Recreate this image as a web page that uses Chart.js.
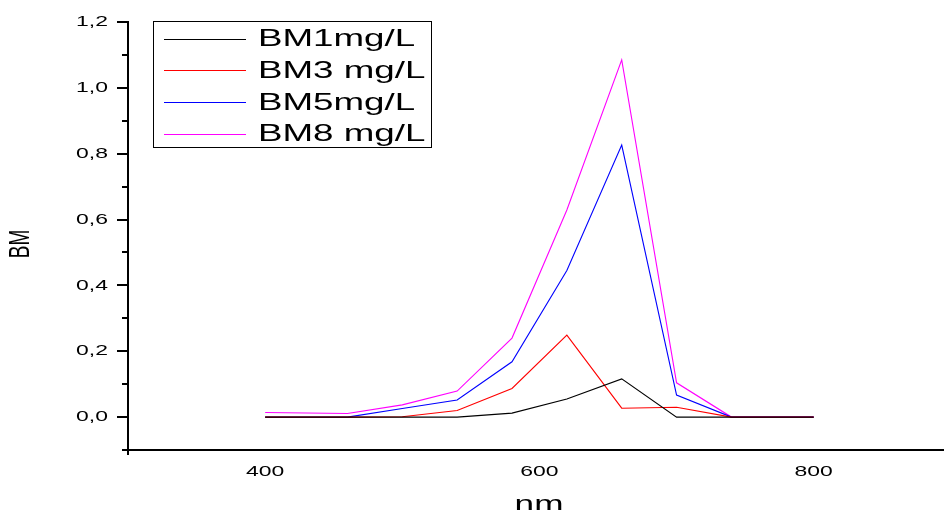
<!DOCTYPE html>
<html>
<head>
<meta charset="utf-8">
<script src="https://cdn.jsdelivr.net/npm/chart.js@4"></script>
<style>
  html, body { margin: 0; padding: 0; background: #fff; }
  #wrap { width: 944px; height: 510px; }
</style>
</head>
<body>
<div id="wrap"><canvas id="chart" width="944" height="510"></canvas></div>
<script>
// Wavelength (nm) and absorbance readings for each concentration
const wavelengths = [400, 460, 500, 540, 580, 620, 660, 700, 740, 800];
const bm1 = [0.000, 0.000, 0.000, 0.000, 0.012, 0.055, 0.116, 0.000, 0.000, 0.000];
const bm3 = [0.000, 0.000, 0.001, 0.020, 0.087, 0.249, 0.027, 0.030, 0.000, 0.000];
const bm5 = [0.000, 0.000, 0.026, 0.052, 0.168, 0.445, 0.826, 0.067, 0.000, 0.000];
const bm8 = [0.014, 0.011, 0.037, 0.079, 0.240, 0.629, 1.085, 0.104, 0.000, 0.000];

const seriesNames = ['BM1mg/L', 'BM3 mg/L', 'BM5mg/L', 'BM8 mg/L'];
const seriesColors = ['#000000', '#ff0000', '#0000ff', '#ff00ff'];

const xTickLabels = ['400', '600', '800'];
const yTickLabels = ['0,0', '0,2', '0,4', '0,6', '0,8', '1,0', '1,2'];
const xTitle = 'nm';
const yTitle = 'BM';

const FONT = '"Liberation Sans", Arial, sans-serif';
const STRETCH = 1.53; // labels are drawn horizontally widened

function wideText(ctx, text, x, y, size, align, baseline, rotated) {
  ctx.save();
  ctx.translate(x, y);
  ctx.scale(STRETCH, 1);
  if (rotated) ctx.rotate(-Math.PI / 2);
  ctx.font = size + 'px ' + FONT;
  ctx.fillStyle = '#000';
  ctx.textAlign = align;
  ctx.textBaseline = baseline;
  ctx.fillText(text, 0, 0);
  ctx.restore();
}

const toNum = s => parseFloat(s.replace(',', '.'));

// Ticks, tick labels, axis titles and the boxed legend
const decorations = {
  id: 'decorations',
  afterDraw(chart) {
    const ctx = chart.ctx;
    const xs = chart.scales.x, ys = chart.scales.y;
    const area = chart.chartArea;
    ctx.save();
    ctx.strokeStyle = '#000';
    ctx.lineWidth = 2;

    // y ticks: major every 0.2, minor in between
    ys.ticks.forEach(t => {
      const py = Math.round(ys.getPixelForValue(t.value));
      const major = Math.round(t.value * 10) % 2 === 0;
      const len = major ? 11 : 6;
      ctx.beginPath();
      ctx.moveTo(area.left - len, py);
      ctx.lineTo(area.left, py);
      ctx.stroke();
    });
    // x ticks: major every 200, minor in between
    xs.ticks.forEach(t => {
      const px = Math.round(xs.getPixelForValue(t.value));
      const major = Math.round(t.value) % 200 === 0;
      const len = major ? 9 : 5;
      ctx.beginPath();
      ctx.moveTo(px, area.bottom);
      ctx.lineTo(px, area.bottom + len);
      ctx.stroke();
    });
    ctx.restore();

    yTickLabels.forEach(lbl => {
      wideText(ctx, lbl, area.left - 20, ys.getPixelForValue(toNum(lbl)), 15, 'right', 'middle');
    });
    xTickLabels.forEach(lbl => {
      wideText(ctx, lbl, xs.getPixelForValue(toNum(lbl)), area.bottom + 22, 15, 'center', 'middle');
    });

    wideText(ctx, xTitle, 539, 512, 23, 'center', 'alphabetic');
    wideText(ctx, yTitle, 21, 244, 19, 'center', 'middle', true);

    // legend box
    ctx.save();
    ctx.strokeStyle = '#000';
    ctx.lineWidth = 1;
    ctx.strokeRect(153.5, 21.5, 278, 126);
    seriesNames.forEach((name, i) => {
      const y = 38.5 + 31.7 * i;
      ctx.strokeStyle = seriesColors[i];
      ctx.beginPath();
      ctx.moveTo(164, Math.round(y) + 0.5);
      ctx.lineTo(246, Math.round(y) + 0.5);
      ctx.stroke();
      wideText(ctx, name, 258, y + 1, 24, 'left', 'middle');
    });
    ctx.restore();
  }
};

const datasets = [bm1, bm3, bm5, bm8].map((vals, i) => ({
  label: seriesNames[i],
  data: wavelengths.map((w, j) => ({ x: w, y: vals[j] })),
  borderColor: seriesColors[i],
  backgroundColor: seriesColors[i],
  borderWidth: 1.1,
  pointRadius: 0,
  tension: 0,
  fill: false
}));

new Chart(document.getElementById('chart'), {
  type: 'line',
  data: { datasets },
  options: {
    responsive: false,
    animation: false,
    layout: { padding: { left: 0, top: 22, right: 0, bottom: 0 } },
    plugins: { legend: { display: false }, tooltip: { enabled: false } },
    scales: {
      x: {
        type: 'linear',
        min: 300,
        max: 895,
        ticks: { display: false, stepSize: 100 },
        grid: { display: false },
        border: { display: true, color: '#000', width: 2 },
        afterBuildTicks: s => { s.ticks = s.ticks.filter(t => Math.round(t.value) % 100 === 0); },
        afterFit: s => { s.height = 60; }
      },
      y: {
        type: 'linear',
        min: -0.1,
        max: 1.2,
        ticks: { display: false, stepSize: 0.1 },
        grid: { display: false },
        border: { display: true, color: '#000', width: 2 },
        afterFit: s => { s.width = 128; }
      }
    }
  },
  plugins: [decorations]
});
</script>
</body>
</html>
